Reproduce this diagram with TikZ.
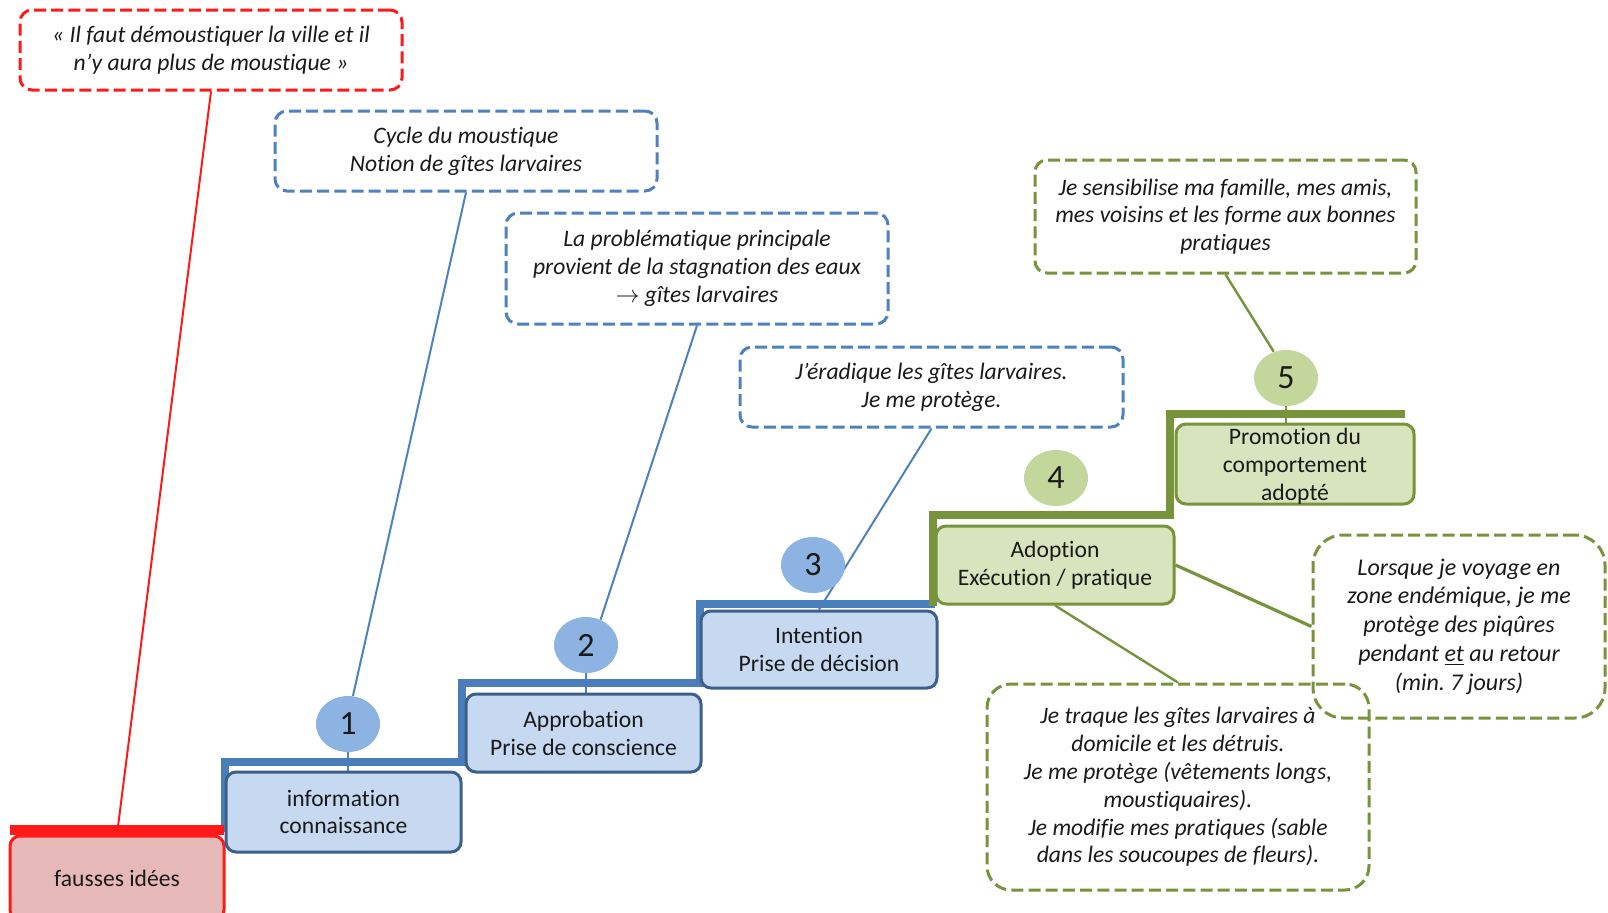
\documentclass[tikz,border=0pt]{standalone}
\usepackage{fontspec}
\setmainfont{Carlito}[Ligatures={NoCommon}]
\usetikzlibrary{shapes.geometric}
\definecolor{qred}{HTML}{FF1A1A}
\definecolor{rfill}{HTML}{E6B9B8}
\definecolor{qblue}{HTML}{4F81BD}
\definecolor{bbar}{HTML}{4A7EBB}
\definecolor{bborder}{HTML}{3D5F8C}
\definecolor{bfill}{HTML}{C6D9F1}
\definecolor{bcirc}{HTML}{8DB3E2}
\definecolor{qgreen}{HTML}{77933C}
\definecolor{gfill}{HTML}{D7E4BD}
\definecolor{gcirc}{HTML}{C3D69B}
\definecolor{txt}{HTML}{1A1A1A}
\pgfdeclarelayer{bg}
\pgfsetlayers{bg,main}
\frenchspacing
\begin{document}
\begin{tikzpicture}[x=0.5pt,y=-0.5pt,
  note/.style={dash pattern=on 6pt off 2.6pt, line width=1.5pt, rounded corners=6pt,
    align=center, inner sep=0pt, text=txt, font=\fontsize{11.8}{13.9}\selectfont\itshape},
  rednote/.style={note, draw=qred},
  bluenote/.style={note, draw=qblue},
  greennote/.style={note, draw=qgreen},
  stepbox/.style={line width=1.5pt, rounded corners=5pt, align=center, inner sep=0pt,
    text=txt, font=\fontsize{11.8}{13.9}\selectfont},
  bluestep/.style={stepbox, draw=bborder, fill=bfill},
  greenstep/.style={stepbox, draw=qgreen, fill=gfill},
  redstep/.style={stepbox, draw=qred, fill=rfill},
  num/.style={ellipse, minimum width=32pt, minimum height=28pt, inner sep=0pt,
    text=txt, font=\fontsize{17}{17}\selectfont},
  bluenum/.style={num, fill=bcirc},
  greennum/.style={num, fill=gcirc},
  bline/.style={draw=qblue, line width=1pt},
  gline/.style={draw=qgreen, line width=1pt},
  stair/.style={line width=4pt, line join=miter}
]
\useasboundingbox (0,0) rectangle (1608,912);
\begin{pgfonlayer}{bg}
\fill[white] (0,0) rectangle (1608,912);
\end{pgfonlayer}

% stairs
\draw[stair, draw=bbar] (225,832) -- (225,762) -- (462,762) -- (462,683) -- (700,683) -- (700,604) -- (935,604);
\draw[stair, draw=qgreen] (933,606) -- (933,515) -- (1170,515) -- (1170,414) -- (1405,414);
\draw[line width=5pt, draw=qred] (10,830) -- (224,830);

% dashed notes
\node[rednote, minimum width=191pt, minimum height=40pt] (redq) at (211,50)
  {« Il faut démoustiquer la ville et il\\n’y aura plus de moustique »};
\node[bluenote, minimum width=191pt, minimum height=40pt] (cycle) at (466,151)
  {Cycle du moustique\\Notion de gîtes larvaires};
\node[bluenote, minimum width=191pt, minimum height=55.5pt] (prob) at (697,268.5)
  {La problématique principale\\provient de la stagnation des eaux\\$\rightarrow$ gîtes larvaires};
\node[bluenote, minimum width=191.5pt, minimum height=40pt] (jer) at (931.5,387)
  {J’éradique les gîtes larvaires.\\Je me protège.};
\node[greennote, minimum width=190.5pt, minimum height=56.5pt] (sens) at (1225.5,216.5)
  {Je sensibilise ma famille, mes amis,\\mes voisins et les forme aux bonnes\\pratiques};
\node[greennote, rounded corners=15pt, minimum width=146pt, minimum height=91.5pt,
  font=\fontsize{12}{14.4}\selectfont\itshape] (lorsque) at (1459,626.5)
  {Lorsque je voyage en\\zone endémique, je me\\protège des piqûres\\pendant \underline{et} au retour\\(min. 7 jours)};
\node[greennote, rounded corners=12pt, minimum width=191pt, minimum height=103pt] (traque) at (1178,787)
  {Je traque les gîtes larvaires à\\domicile et les détruis.\\Je me protège (vêtements longs,\\moustiquaires).\\Je modifie mes pratiques (sable\\dans les soucoupes de fleurs).};

% step boxes
\node[redstep, minimum width=107pt, minimum height=42pt] (fausses) at (117,878) {fausses idées};
\node[bluestep, minimum width=117.5pt, minimum height=40pt] (info) at (343.5,812) {information\\connaissance};
\node[bluestep, minimum width=117.5pt, minimum height=39pt] (appro) at (583.5,733) {Approbation\\Prise de conscience};
\node[bluestep, minimum width=118pt, minimum height=38.5pt] (intent) at (819,649.5) {Intention\\Prise de décision};
\node[greenstep, minimum width=119pt, minimum height=39pt] (adopt) at (1055,565) {Adoption\\Exécution / pratique};
\node[greenstep, minimum width=119pt, minimum height=40pt, text depth=0pt] (promo) at (1295,464) {Promotion du\\comportement\\adopté};

% numbered circles
\node[bluenum] (c1) at (348,724) {1};
\node[bluenum] (c2) at (586,645) {2};
\node[bluenum] (c3) at (813,565) {3};
\node[greennum] (c4) at (1056,478) {4};
\node[greennum] (c5) at (1286,378) {5};

% connectors
\begin{pgfonlayer}{bg}
\draw[draw=qred, line width=1pt] (redq.south) -- (fausses.north);
\draw[bline] (cycle.south) -- (c1.80);
\draw[bline] (prob.south) -- (c2.60);
\draw[bline] (jer.south) -- (intent.north);
\draw[gline, line width=1.2pt] (sens.south) -- (c5.115);
\draw[gline, line width=1.6pt] (adopt.east) -- (lorsque.west);
\draw[gline, line width=1.2pt] (adopt.south) -- (traque.north);
\draw[bline, line width=0.8pt] (c1.south) -- (c1.south |- info.north);
\draw[bline, line width=0.8pt] (c2.south) -- (c2.south |- appro.north);
\draw[gline, line width=0.8pt] (c5.south) -- (c5.south |- promo.north);
\end{pgfonlayer}
\end{tikzpicture}
\end{document}
